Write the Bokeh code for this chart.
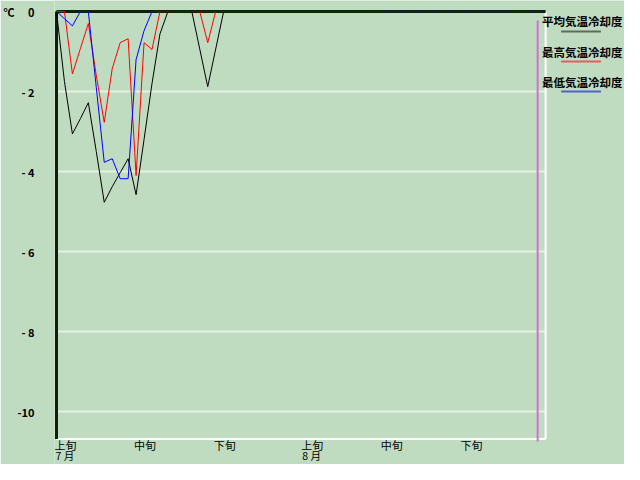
from bokeh.plotting import figure
from bokeh.models import Range1d, FixedTicker
from bokeh.core.properties import value
from bokeh.embed import file_html
from bokeh.resources import INLINE

# ---- data (day index 0 = 7/1 ... 61 = 8/31) ----
day = list(range(62))
avg_cool = [0, -1.75, -3.06, -2.68, -2.28, -3.5, -4.77, -4.38, -4.03, -3.68,
            -4.58, -3.2, -1.8, -0.56, 0, 0, 0, 0, -0.94, -1.88,
            -0.94, 0, 0, 0, 0, 0, 0, 0, 0, 0,
            0, 0, 0, 0, 0, 0, 0, 0, 0, 0,
            0, 0, 0, 0, 0, 0, 0, 0, 0, 0,
            0, 0, 0, 0, 0, 0, 0, 0, 0, 0,
            0, 0]
max_cool = [0, 0, -1.56, -0.93, -0.3, -1.6, -2.77, -1.43, -0.78, -0.68,
            -4.1, -0.78, -0.95, 0, 0, 0, 0, 0, 0, -0.78,
            0, 0, 0, 0, 0, 0, 0, 0, 0, 0,
            0, 0, 0, 0, 0, 0, 0, 0, 0, 0,
            0, 0, 0, 0, 0, 0, 0, 0, 0, 0,
            0, 0, 0, 0, 0, 0, 0, 0, 0, 0,
            0, 0]
min_cool = [0, -0.18, -0.36, 0, 0, -1.9, -3.77, -3.68, -4.18, -4.18,
            -1.2, -0.48, 0, 0, 0, 0, 0, 0, 0, 0,
            0, 0, 0, 0, 0, 0, 0, 0, 0, 0,
            0, 0, 0, 0, 0, 0, 0, 0, 0, 0,
            0, 0, 0, 0, 0, 0, 0, 0, 0, 0,
            0, 0, 0, 0, 0, 0, 0, 0, 0, 0,
            0, 0]
series_names = ["平均気温冷却度", "最高気温冷却度", "最低気温冷却度"]
series_colors = ["#000000", "#ff0000", "#0000ff"]
legend_colors = ["#606860", "#e06060", "#5060d0"]

decade_days = [0, 10, 20, 31, 41, 51]
decade_labels = ["上旬", "中旬", "下旬", "上旬", "中旬", "下旬"]
month_days = [0, 31]
month_labels = ["7 月", "8 月"]

y_ticks = [0, -2, -4, -6, -8, -10]
y_tick_labels = {0: "℃\u3000\u00a00", -2: "- 2", -4: "- 4", -6: "- 6",
                 -8: "- 8", -10: "-10"}
grid_values = [-2, -4, -6, -8, -10]

x_end = 61.45          # end of 8/31 (plot area right edge)
y_bottom = -10.69      # plot area bottom
marker_day = 60.45     # magenta marker line

BG = "#c0dcc0"
JP_NAME = "Noto Sans CJK JP"
JP = value(JP_NAME)

p = figure(width=624, height=464,
           x_range=Range1d(-0.25, 71.36), y_range=Range1d(-11.325, 0.275),
           x_axis_location=None, title=None,
           min_border=0, min_border_left=49,
           output_backend="svg", toolbar_location=None)
p.background_fill_color = BG
p.border_fill_color = BG
p.outline_line_color = None
p.xgrid.visible = False
p.ygrid.visible = False

ax = p.yaxis[0]
ax.ticker = FixedTicker(ticks=y_ticks)
ax.major_label_overrides = y_tick_labels
ax.axis_line_color = None
ax.major_tick_line_color = None
ax.minor_tick_line_color = None
ax.major_label_standoff = 14
ax.major_label_text_font = JP_NAME
ax.major_label_text_font_style = "bold"
ax.major_label_text_font_size = "11px"
ax.major_label_text_color = "#000000"

# grid lines limited to the plot area
p.segment(x0=[0] * len(grid_values), x1=[x_end] * len(grid_values),
          y0=grid_values, y1=grid_values, line_color="#e4f0e2", line_width=2)

# 3D-like frame: dark top/left, white bottom/right
p.segment(x0=[0, x_end], x1=[x_end, x_end], y0=[y_bottom, 0], y1=[y_bottom, y_bottom],
          line_color="#ffffff", line_width=2)
p.segment(x0=[0, 0], x1=[x_end, 0], y0=[0, 0], y1=[0, y_bottom],
          line_color="#0c200c", line_width=3)

# magenta marker
p.segment(x0=[marker_day], x1=[marker_day], y0=[-0.225], y1=[-10.75],
          line_color="#d070d0", line_width=2)

for vals, col in zip([avg_cool, max_cool, min_cool], series_colors):
    p.line(day, vals, line_color=col, line_width=1)

# x labels (decades and months), left aligned at their start day
p.text(x=decade_days, y=[-10.84] * len(decade_days), text=decade_labels,
       text_font=JP, text_font_size="11px", text_align="left",
       text_baseline="middle", x_offset=-2, text_color="#000000")
p.text(x=month_days, y=[-11.1] * len(month_days), text=month_labels,
       text_font=JP, text_font_size="10.5px", text_align="left",
       text_baseline="middle", x_offset=-1, text_color="#000000")

# legend (text above a colored sample line)
leg_text_y = [-0.225, -1.0, -1.75]
leg_line_y = [-0.5, -1.25, -2.0]
p.text(x=[61.0] * 3, y=leg_text_y, text=series_names, text_font=JP,
       text_font_size="11.5px", text_font_style="bold", text_align="left",
       text_baseline="middle", text_color="#000000")
p.segment(x0=[63.4] * 3, x1=[68.4] * 3, y0=leg_line_y, y1=leg_line_y,
          line_color=legend_colors, line_width=2)

open("out.html", "w").write(file_html(p, INLINE))
